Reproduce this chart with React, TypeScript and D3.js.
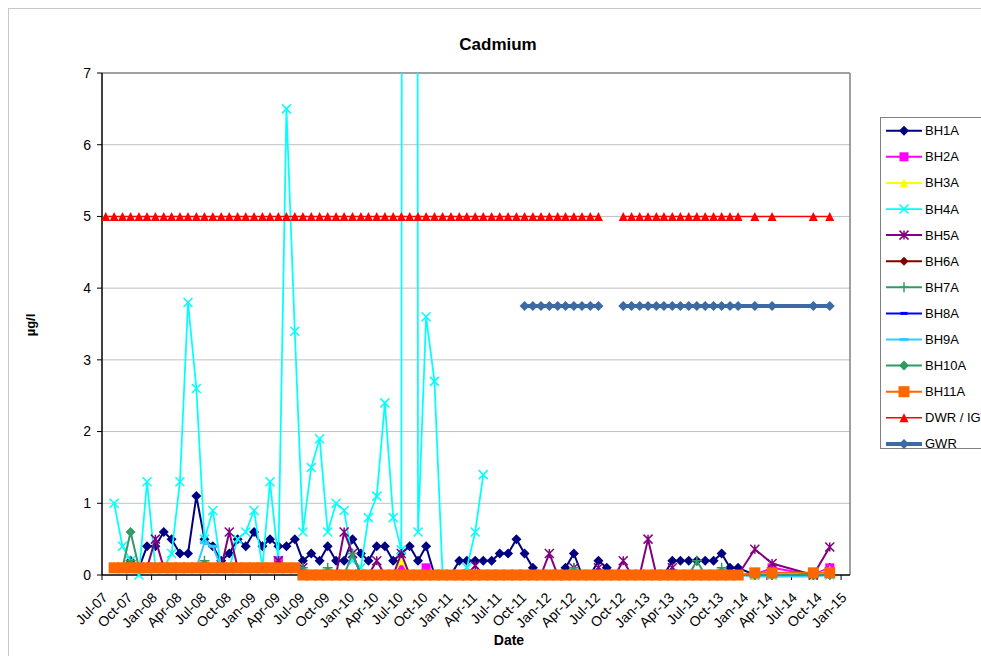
import React from 'react';
import * as d3 from 'd3';

const _ = null;

// Sampling dates (monthly Jul 2007 – Dec 2013, then 2014 samples)
const dates: string[] = [
  '2007-07-15','2007-08-15','2007-09-15','2007-10-15','2007-11-15','2007-12-15',
  '2008-01-15','2008-02-15','2008-03-15','2008-04-15','2008-05-15','2008-06-15','2008-07-15','2008-08-15','2008-09-15','2008-10-15','2008-11-15','2008-12-15',
  '2009-01-15','2009-02-15','2009-03-15','2009-04-15','2009-05-15','2009-06-15','2009-07-15','2009-08-15','2009-09-15','2009-10-15','2009-11-15','2009-12-15',
  '2010-01-15','2010-02-15','2010-03-15','2010-04-15','2010-05-15','2010-06-15','2010-07-15','2010-08-15','2010-09-15','2010-10-15','2010-11-15','2010-12-15',
  '2011-01-15','2011-02-15','2011-03-15','2011-04-15','2011-05-15','2011-06-15','2011-07-15','2011-08-15','2011-09-15','2011-10-15','2011-11-15','2011-12-15',
  '2012-01-15','2012-02-15','2012-03-15','2012-04-15','2012-05-15','2012-06-15','2012-07-15','2012-08-15','2012-09-15','2012-10-15','2012-11-15','2012-12-15',
  '2013-01-15','2013-02-15','2013-03-15','2013-04-15','2013-05-15','2013-06-15','2013-07-15','2013-08-15','2013-09-15','2013-10-15','2013-11-15','2013-12-15',
  '2014-02-15','2014-04-20','2014-09-20','2014-11-20',
];

const BH1A = [
  _, _, 0.1, 0.2, 0.1, 0.4,
  0.4, 0.6, 0.5, 0.3, 0.3, 1.1, 0.5, 0.4, 0.2, 0.3, 0.5, 0.4,
  0.6, 0.4, 0.5, 0.4, 0.4, 0.5, 0.2, 0.3, 0.2, 0.4, 0.2, 0.2,
  0.5, 0.3, 0.2, 0.4, 0.4, 0.2, 0.3, 0.4, 0.2, 0.4, 0, 0,
  0, 0.2, 0.2, 0.2, 0.2, 0.2, 0.3, 0.3, 0.5, 0.3, 0.1, 0,
  0, 0, 0.1, 0.3, 0, 0, 0.2, 0.1, 0, 0, 0, 0,
  0, 0, 0, 0.2, 0.2, 0.2, 0.2, 0.2, 0.2, 0.3, 0.1, 0.1,
  0, 0, 0, 0.1,
];
const BH2A = [
  _, 0.1, 0.1, 0.1, 0.1, 0.1,
  0.1, 0.1, 0.1, 0.1, 0.1, 0.1, 0.1, 0.1, 0.1, 0.1, 0.1, 0.1,
  0.1, 0.1, 0.1, 0.2, 0.1, 0.1, 0, 0, 0, 0, 0, 0,
  0, 0, 0, 0, 0, 0, 0.1, 0, 0, 0.1, 0, 0,
  0, 0, 0, 0, 0, 0, 0, 0, 0, 0, 0, 0,
  0, 0, 0, 0, 0, 0, 0, 0, 0, 0, 0, 0,
  0, 0, 0, 0, 0, 0, 0, 0, 0, 0, 0, 0,
  0, 0.1, 0, 0.1,
];
const BH3A = [
  _, 0.1, 0.1, 0.1, 0.1, 0.1,
  0.1, 0.1, 0.1, 0.1, 0.1, 0.1, 0.1, 0.1, 0.1, 0.1, 0.1, 0.1,
  0.1, 0.1, 0.1, 0.1, 0.1, 0.1, 0, 0, 0, 0, 0, 0,
  0, 0, 0, 0, 0, 0, 0.2, 0, 0, 0, 0, 0,
  0, 0, 0, 0, 0, 0, 0, 0, 0, 0, 0, 0,
  0, 0, 0, 0, 0, 0, 0, 0, 0, 0, 0, 0,
  0, 0, 0, 0, 0, 0, 0, 0, 0, 0, 0, 0,
  0, 0, 0, 0.07,
];
const BH4A = [
  _, 1.0, 0.4, 0.2, 0, 1.3,
  0.1, 0.1, 0.3, 1.3, 3.8, 2.6, 0.5, 0.9, 0.1, 0.1, 0.5, 0.6,
  0.9, 0.1, 1.3, 0.2, 6.5, 3.4, 0.6, 1.5, 1.9, 0.6, 1.0, 0.9,
  0.2, 0.1, 0.8, 1.1, 2.4, 0.8, 0.35, 130, 0.6, 3.6, 2.7, 0,
  0, 0, 0.1, 0.6, 1.4, _, _, _, _, _, _, _,
  _, _, _, _, _, _, _, _, _, _, _, _,
  _, _, _, _, _, _, _, _, _, _, _, _,
  0, 0, 0, 0,
];
const BH5A = [
  _, 0.1, 0.1, 0.1, 0.1, 0.1,
  0.5, 0.1, 0.1, 0.1, 0.1, 0.1, 0.1, 0.1, 0.1, 0.6, 0.1, 0.1,
  0.1, 0.1, 0.1, 0.2, 0.1, 0.1, 0.1, 0, 0, 0, 0, 0.6,
  0.3, 0, 0, 0.2, 0, 0, 0.3, 0, 0, 0, 0, 0,
  0, 0, 0, 0.13, 0, 0, 0, 0, 0, 0, 0, 0,
  0.3, 0, 0, 0.1, 0, 0, 0.1, 0, 0, 0.2, 0, 0,
  0.5, 0, 0, 0.1, 0, 0, 0, 0, 0, 0, 0, 0,
  0.36, 0.16, 0, 0.39,
];
const BH6A = [
  _, 0.1, 0.1, 0.1, 0.1, 0.1,
  0.1, 0.1, 0.1, 0.1, 0.1, 0.1, 0.1, 0.1, 0.1, 0.1, 0.1, 0.1,
  0.1, 0.1, 0.1, 0.1, 0.1, 0.1, 0, 0, 0, 0, 0, 0,
  0, 0, 0, 0, 0, 0, 0, 0, 0, 0, 0, 0,
  0, 0, 0, 0, 0, 0, 0, 0, 0, 0, 0, 0,
  0, 0, 0, 0, 0, 0, 0, 0, 0, 0, 0, 0,
  0, 0, 0, 0, 0, 0, 0, 0, 0, 0, 0, 0,
  0, 0, 0, 0,
];
const BH7A = [
  _, 0.1, 0.1, 0.2, 0.1, 0.1,
  0.1, 0.1, 0.1, 0.1, 0.1, 0.1, 0.2, 0.1, 0.1, 0.1, 0.1, 0.1,
  0.1, 0.1, 0.1, 0.1, 0.1, 0.1, 0.1, 0, 0, 0.1, 0, 0,
  0.3, 0, 0, 0, 0, 0, 0, 0, 0, 0, 0, 0,
  0, 0, 0, 0, 0, 0, 0, 0, 0, 0, 0, 0,
  0, 0, 0, 0.1, 0, 0, 0, 0, 0, 0, 0, 0,
  0, 0, 0, 0, 0, 0, 0.2, 0, 0, 0.1, 0, 0,
  0, 0, 0, 0,
];
const BH8A = [
  _, 0.1, 0.1, 0.1, 0.1, 0.1,
  0.1, 0.1, 0.1, 0.1, 0.1, 0.1, 0.1, 0.1, 0.1, 0.1, 0.1, 0.1,
  0.1, 0.1, 0.1, 0.1, 0.1, 0.1, 0, 0, 0, 0, 0, 0,
  0, 0, 0, 0, 0, 0, 0, 0, 0, 0, 0, 0,
  0, 0, 0, 0, 0, 0, 0, 0, 0, 0, 0, 0,
  0, 0, 0, 0, 0, 0, 0, 0, 0, 0, 0, 0,
  0, 0, 0, 0, 0, 0, 0, 0, 0, 0, 0, 0,
  0, 0, 0, 0,
];
const BH9A = [
  _, 0.1, 0.1, 0.1, 0.1, 0.1,
  0.1, 0.1, 0.1, 0.1, 0.1, 0.1, 0.45, 0.4, 0.1, 0.1, 0.1, 0.1,
  0.1, 0.1, 0.1, 0.1, 0.1, 0.1, 0, 0, 0, 0, 0, 0,
  0, 0, 0, 0, 0, 0, 0, 0, 0, 0, 0, 0,
  0, 0, 0, 0, 0, 0, 0, 0, 0, 0, 0, 0,
  0, 0, 0, 0, 0, 0, 0, 0, 0, 0, 0, 0,
  0, 0, 0, 0, 0, 0, 0, 0, 0, 0, 0, 0,
  -0.02, -0.02, -0.02, 0,
];
const BH10A = [
  _, 0.1, 0.1, 0.6, 0.1, 0.1,
  0.1, 0.1, 0.1, 0.1, 0.1, 0.1, 0.1, 0.1, 0.1, 0.1, 0.1, 0.1,
  0.1, 0.1, 0.1, 0.1, 0.1, 0.1, 0, 0, 0, 0, 0, 0,
  0, 0, 0, 0, 0, 0, 0, 0, 0, 0, 0, 0,
  0, 0, 0, 0, 0, 0, 0, 0, 0, 0, 0, 0,
  0, 0, 0, 0, 0, 0, 0, 0, 0, 0, 0, 0,
  0, 0, 0, 0, 0, 0, 0, 0, 0, 0, 0, 0,
  0, 0, 0, 0,
];
const BH11A = [
  _, 0.1, 0.1, 0.1, 0.1, 0.1,
  0.1, 0.1, 0.1, 0.1, 0.1, 0.1, 0.1, 0.1, 0.1, 0.1, 0.1, 0.1,
  0.1, 0.1, 0.1, 0.1, 0.1, 0.1, 0, 0, 0, 0, 0, 0,
  0, 0, 0, 0, 0, 0, 0, 0, 0, 0, 0, 0,
  0, 0, 0, 0, 0, 0, 0, 0, 0, 0, 0, 0,
  0, 0, 0, 0, 0, 0, 0, 0, 0, 0, 0, 0,
  0, 0, 0, 0, 0, 0, 0, 0, 0, 0, 0, 0,
  0.03, 0.03, 0.03, 0.03,
];
const DWR = [
  5, 5, 5, 5, 5, 5,
  5, 5, 5, 5, 5, 5, 5, 5, 5, 5, 5, 5,
  5, 5, 5, 5, 5, 5, 5, 5, 5, 5, 5, 5,
  5, 5, 5, 5, 5, 5, 5, 5, 5, 5, 5, 5,
  5, 5, 5, 5, 5, 5, 5, 5, 5, 5, 5, 5,
  5, 5, 5, 5, 5, 5, 5, _, _, 5, 5, 5,
  5, 5, 5, 5, 5, 5, 5, 5, 5, 5, 5, 5,
  5, 5, 5, 5,
];
const GWR = [
  _, _, _, _, _, _,
  _, _, _, _, _, _, _, _, _, _, _, _,
  _, _, _, _, _, _, _, _, _, _, _, _,
  _, _, _, _, _, _, _, _, _, _, _, _,
  _, _, _, _, _, _, _, _, _, 3.75, 3.75, 3.75,
  3.75, 3.75, 3.75, 3.75, 3.75, 3.75, 3.75, _, _, 3.75, 3.75, 3.75,
  3.75, 3.75, 3.75, 3.75, 3.75, 3.75, 3.75, 3.75, 3.75, 3.75, 3.75, 3.75,
  3.75, 3.75, 3.75, 3.75,
];

const seriesNames = ['BH1A','BH2A','BH3A','BH4A','BH5A','BH6A','BH7A','BH8A','BH9A','BH10A','BH11A','DWR / IGV','GWR'];
const seriesValues = [BH1A, BH2A, BH3A, BH4A, BH5A, BH6A, BH7A, BH8A, BH9A, BH10A, BH11A, DWR, GWR];
const yTicks = [0, 1, 2, 3, 4, 5, 6, 7];

type Style = { color: string; shape: string; size: number; width: number };
const styles: Style[] = [
  { color: '#000080', shape: 'diamond', size: 10, width: 2 },
  { color: '#FF00FF', shape: 'square', size: 9, width: 2 },
  { color: '#FFFF00', shape: 'triangle', size: 9, width: 2 },
  { color: '#00FFFF', shape: 'x', size: 9, width: 1.75 },
  { color: '#800080', shape: 'star', size: 9, width: 2 },
  { color: '#800000', shape: 'diamond', size: 9, width: 2 },
  { color: '#339966', shape: 'plus', size: 10, width: 2 },
  { color: '#0000FF', shape: 'dash', size: 7, width: 2 },
  { color: '#33CCFF', shape: 'dash', size: 9, width: 2 },
  { color: '#339966', shape: 'diamond', size: 10, width: 2 },
  { color: '#FF6600', shape: 'square', size: 11, width: 2 },
  { color: '#FF0000', shape: 'triangle', size: 9, width: 1.5 },
  { color: '#3D6AA2', shape: 'diamond', size: 10, width: 4 },
];

function Marker({ shape, cx, cy, s, color }: { shape: string; cx: number; cy: number; s: number; color: string }) {
  const h = s / 2;
  switch (shape) {
    case 'diamond':
      return <path d={`M${cx},${cy - h}L${cx + h},${cy}L${cx},${cy + h}L${cx - h},${cy}Z`} fill={color} />;
    case 'square':
      return <rect x={cx - h} y={cy - h} width={s} height={s} fill={color} />;
    case 'triangle':
      return <path d={`M${cx},${cy - h}L${cx + h},${cy + h}L${cx - h},${cy + h}Z`} fill={color} />;
    case 'x':
      return <path d={`M${cx - h},${cy - h}L${cx + h},${cy + h}M${cx + h},${cy - h}L${cx - h},${cy + h}`} stroke={color} strokeWidth={1.5} fill="none" />;
    case 'star':
      return <path d={`M${cx - h},${cy - h}L${cx + h},${cy + h}M${cx + h},${cy - h}L${cx - h},${cy + h}M${cx},${cy - h}L${cx},${cy + h}`} stroke={color} strokeWidth={1.5} fill="none" />;
    case 'plus':
      return <path d={`M${cx - h},${cy}L${cx + h},${cy}M${cx},${cy - h}L${cx},${cy + h}`} stroke={color} strokeWidth={1.5} fill="none" />;
    case 'dash':
      return <rect x={cx - h} y={cy - 1.5} width={s} height={3} fill={color} />;
    default:
      return <circle cx={cx} cy={cy} r={h} fill={color} />;
  }
}

const parse = d3.utcParse('%Y-%m-%d');

export default function App() {
  const left = 102, right = 850, top = 73, bottom = 575;
  const x = d3.scaleUtc().domain([new Date(Date.UTC(2007, 6, 1)), new Date(Date.UTC(2015, 1, 3))]).range([left, right]);
  const y = d3.scaleLinear().domain([0, 7]).range([bottom, top]);
  const dts = dates.map((d) => parse(d) as Date);
  const xTicks = x.ticks(d3.utcMonth.every(3) as any).filter((t) => t <= new Date(Date.UTC(2015, 0, 2)));
  const fmt = d3.utcFormat('%b-%y');
  const font = 'Liberation Sans, Arial, sans-serif';

  const line = d3
    .line<number | null>()
    .defined((v) => v != null)
    .x((_v, i) => x(dts[i]))
    .y((v) => y(v as number));

  const legX = 880, legY0 = 130.7, legDy = 26.1;

  return (
    <svg width={981} height={656} style={{ position: 'fixed', left: 0, top: 0, background: '#fff' }} fontFamily={font}>
      <defs>
        <clipPath id="plotclip">
          <rect x={left - 10} y={top} width={right - left + 20} height={bottom - top + 20} />
        </clipPath>
      </defs>
      <rect x={8.5} y={8.5} width={1000} height={700} fill="#fff" stroke="#c8c8c8" strokeWidth={1} />
      <text x={498} y={50} textAnchor="middle" fontSize={17} fontWeight="bold">Cadmium</text>

      {/* gridlines */}
      {yTicks.filter((t) => t > 0 && t < 7).map((t) => (
        <line key={t} x1={left} x2={right} y1={y(t)} y2={y(t)} stroke="#c0c0c0" strokeWidth={1} />
      ))}
      <line x1={left} x2={right} y1={top} y2={top} stroke="#808080" strokeWidth={1.5} />
      <line x1={right} x2={right} y1={top} y2={bottom} stroke="#808080" strokeWidth={1.5} />

      {/* y axis */}
      <line x1={left} x2={left} y1={top} y2={bottom} stroke="#000" strokeWidth={1.5} />
      {yTicks.map((t) => (
        <g key={t}>
          <line x1={left - 5} x2={left} y1={y(t)} y2={y(t)} stroke="#000" />
          <text x={left - 11} y={y(t)} dy="0.35em" textAnchor="end" fontSize={14}>{t}</text>
        </g>
      ))}
      <text transform={`translate(35,325) rotate(-90)`} textAnchor="middle" fontSize={13} fontWeight="bold">µg/l</text>

      {/* x axis */}
      <line x1={left} x2={right} y1={bottom} y2={bottom} stroke="#000" strokeWidth={1.5} />
      {xTicks.map((t, i) => (
        <g key={i}>
          <line x1={x(t)} x2={x(t)} y1={bottom} y2={bottom + 5} stroke="#000" />
          <text transform={`translate(${x(t) + 3},${bottom + 20}) rotate(-45)`} textAnchor="end" dy="0.35em" fontSize={14}>{fmt(t)}</text>
        </g>
      ))}
      <text x={509} y={645} textAnchor="middle" fontSize={14} fontWeight="bold">Date</text>

      {/* series */}
      <g clipPath="url(#plotclip)">
        {seriesValues.map((vals, si) => {
          const st = styles[si];
          return (
            <g key={si}>
              <path d={line(vals) || ''} fill="none" stroke={st.color} strokeWidth={st.width} strokeLinejoin="round" />
              {vals.map((v, i) =>
                v == null || v > 7 ? null : (
                  <Marker key={i} shape={st.shape} cx={x(dts[i])} cy={y(v)} s={st.size} color={st.color} />
                )
              )}
            </g>
          );
        })}
      </g>

      {/* legend */}
      <rect x={legX + 0.5} y={117.5} width={200} height={331} fill="#fff" stroke="#808080" strokeWidth={1} />
      {seriesNames.map((n, i) => {
        const st = styles[i];
        const ly = legY0 + i * legDy;
        return (
          <g key={n}>
            <line x1={886} x2={922} y1={ly} y2={ly} stroke={st.color} strokeWidth={st.width} />
            <Marker shape={st.shape} cx={904} cy={ly} s={st.size} color={st.color} />
            <text x={925} y={ly} dy="0.35em" fontSize={13}>{n}</text>
          </g>
        );
      })}
    </svg>
  );
}
